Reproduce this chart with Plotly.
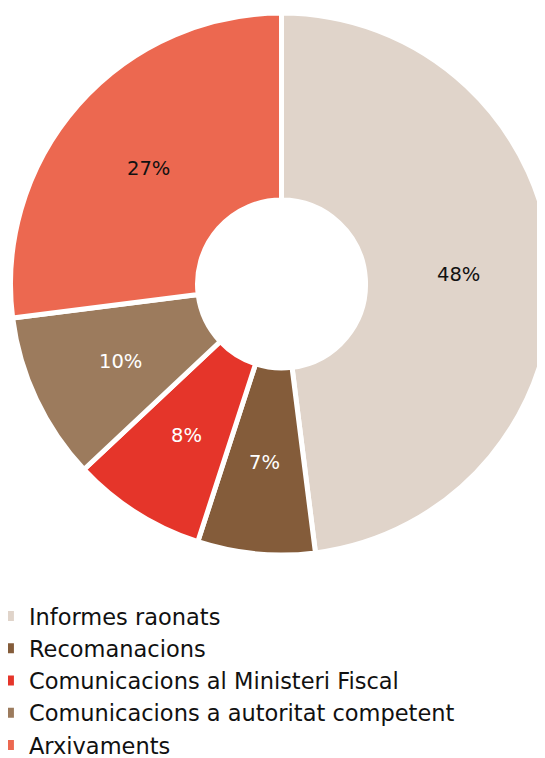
import math
import plotly.graph_objects as go

labels = ["Informes raonats", "Recomanacions", "Comunicacions al Ministeri Fiscal",
          "Comunicacions a autoritat competent", "Arxivaments"]
values = [48, 7, 8, 10, 27]
colors = ["#e0d4ca", "#845c3a", "#e5352a", "#9c7b5d", "#ec6850"]
text_colors = ["#111111", "#ffffff", "#ffffff", "#ffffff", "#111111"]

W, H = 545, 800
HOLE = 0.31
dom_x = [0.0046, 0.9991]
dom_y = [0.31625, 0.99375]

fig = go.Figure(go.Pie(
    labels=labels,
    values=values,
    sort=False,
    direction="clockwise",
    rotation=0,
    hole=HOLE,
    marker=dict(colors=colors, line=dict(color="#ffffff", width=5)),
    textinfo="none",
    hoverinfo="label+percent",
    domain=dict(x=dom_x, y=dom_y),
    showlegend=False,
))

# legend entries (square swatches, no white outline)
for lab, col in zip(labels, colors):
    fig.add_trace(go.Scatter(
        x=[None], y=[None], mode="markers", name=lab,
        marker=dict(symbol="square", size=10, color=col, line=dict(width=0)),
        showlegend=True,
    ))

# percentage labels at the middle of the ring, derived from the values
cx = (dom_x[0] + dom_x[1]) / 2 * W
cy = (1 - (dom_y[0] + dom_y[1]) / 2) * H
r_out = min((dom_x[1] - dom_x[0]) * W, (dom_y[1] - dom_y[0]) * H) / 2
r_mid = r_out * (1 + HOLE) / 2
total = sum(values)
cum = 0
for v, tc in zip(values, text_colors):
    theta = 2 * math.pi * (cum + v / 2) / total
    cum += v
    px = cx + r_mid * math.sin(theta)
    py = cy - r_mid * math.cos(theta)
    fig.add_annotation(
        x=px / W, y=1 - py / H, xref="paper", yref="paper",
        text=f"{round(100 * v / total)}%", showarrow=False,
        font=dict(family="DejaVu Sans", size=19.5, color=tc),
        xanchor="center", yanchor="middle", yshift=-2,
    )

fig.update_layout(
    width=W, height=H,
    margin=dict(l=0, r=0, t=0, b=0, autoexpand=False),
    paper_bgcolor="#ffffff",
    plot_bgcolor="rgba(0,0,0,0)",
    xaxis=dict(visible=False),
    yaxis=dict(visible=False),
    showlegend=True,
    legend=dict(
        x=-0.035, y=0.2665, xanchor="left", yanchor="top",
        font=dict(family="DejaVu Sans", size=22.5, color="#111111"),
        itemclick=False, itemdoubleclick=False,
        bgcolor="rgba(0,0,0,0)",
    ),
)

fig.write_html("out.html")
